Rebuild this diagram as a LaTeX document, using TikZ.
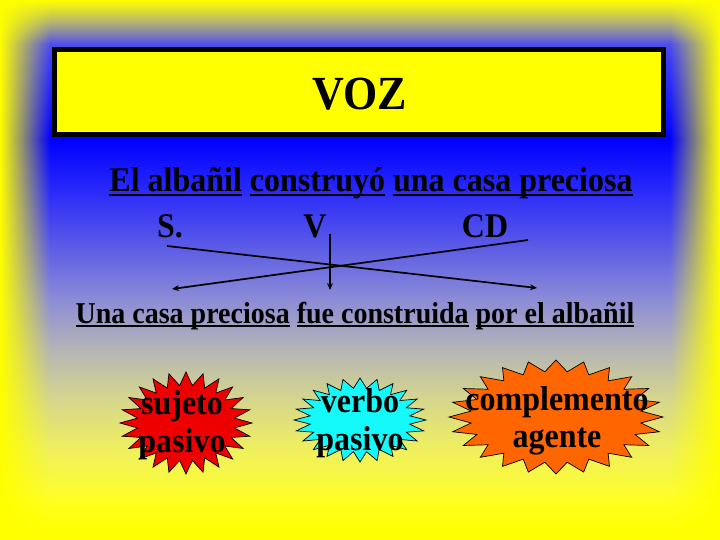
\documentclass[tikz,border=0pt]{standalone}
\usepackage{fontspec}
\setmainfont{Liberation Serif}
\usetikzlibrary{arrows.meta,fadings}
\newsavebox\ulbox
\newcommand\ulw[1]{\sbox\ulbox{#1}\rlap{\rule[-0.13em]{\wd\ulbox}{0.07em}}\usebox\ulbox}
\newcommand\tall[1]{\scalebox{1}[1.08]{#1}}
\newcommand\mystar[6]{%
  \filldraw[fill=#6, draw=black, line width=0.7pt, line join=miter]
    plot[domain=0:47, samples=48, variable=\k]
    ({#1+(1-(1-#5)*mod(round(\k),2))*#3*cos(\k*7.5)},
     {#2+(1-(1-#5)*mod(round(\k),2))*#4*sin(\k*7.5)}) -- cycle;}
\pgfdeclareverticalshading{bgshade}{100bp}{%
  rgb(0bp)=(1,1,0.08);
  rgb(25bp)=(1,1,0.08);
  rgb(28.7bp)=(1,1,0.16);
  rgb(33.33bp)=(0.94,0.94,0.37);
  rgb(37.96bp)=(0.84,0.84,0.55);
  rgb(42.59bp)=(0.71,0.71,0.71);
  rgb(47.22bp)=(0.55,0.55,0.84);
  rgb(51.85bp)=(0.37,0.37,0.9);
  rgb(57.41bp)=(0.16,0.16,0.98);
  rgb(62.04bp)=(0,0,1);
  rgb(69.44bp)=(0.24,0.24,0.96);
  rgb(75bp)=(0.5,0.5,0.85);
  rgb(100bp)=(0.5,0.5,0.85)}
\tikzfading[name=fadeE, left color=transparent!0, right color=transparent!100]
\tikzfading[name=fadeW, left color=transparent!100, right color=transparent!0]
\tikzfading[name=fadeN, top color=transparent!0, bottom color=transparent!100]
\tikzfading[name=fadeS, top color=transparent!100, bottom color=transparent!0]
\definecolor{burstred}{RGB}{238,0,0}
\definecolor{burstcyan}{RGB}{20,250,250}
\definecolor{burstorange}{RGB}{255,102,0}
\definecolor{bgyellow}{RGB}{255,255,0}
\begin{document}
\begin{tikzpicture}[x=1pt,y=-1pt,
  big/.style={font=\fontsize{32}{38}\selectfont\bfseries, inner sep=0pt, anchor=base},
  mid/.style={font=\fontsize{28}{34}\selectfont\bfseries, inner sep=0pt, anchor=base},
  arr/.style={line width=1.7pt, -{Stealth[length=7pt,width=6pt]}}]
\useasboundingbox (0,0) rectangle (720,540);
% background
\fill[bgyellow] (0,0) rectangle (720,540);
\shade[shading=bgshade] (0,0) rectangle (720,540);
\fill[bgyellow, path fading=fadeE] (0,0) rectangle (50,540);
\fill[bgyellow, path fading=fadeW] (670,0) rectangle (720,540);
\fill[bgyellow, path fading=fadeN] (0,0) rectangle (720,44);
\fill[bgyellow, path fading=fadeS] (0,492) rectangle (720,540);
% title
\node[draw=black, line width=5pt, fill=bgyellow, minimum width=609pt, minimum height=85pt, inner sep=0pt] (title) at (359,92) {};
\node[font=\fontsize{44}{50}\selectfont\bfseries, inner sep=0pt, anchor=base] (voz) at (360,110) {\tall{VOZ}};
% active sentence
\node[big] (act) at (371,192) {\tall{\ulw{El albañil} \ulw{construyó} \ulw{una casa preciosa}}};
\node[big] (S) at (170,237) {\tall{S.}};
\node[big] (V) at (315,237) {\tall{V}};
\node[big] (CD) at (485,237) {\tall{CD}};
% connectors
\coordinate (sA) at (167,246);
\coordinate (sB) at (537,288);
\coordinate (cA) at (528,240);
\coordinate (cB) at (172,289);
\coordinate (vA) at (330,234);
\coordinate (vB) at (330,290);
\draw[arr] (sA) -- (sB);
\draw[arr] (cA) -- (cB);
\draw[arr] (vA) -- (vB);
% passive sentence
\node[mid] (pas) at (355,323) {\tall{\ulw{Una casa preciosa} \ulw{fue construida} \ulw{por el albañil}}};
% bursts
\mystar{186}{423}{66}{51}{0.74}{burstred}
\mystar{360}{420}{66}{42}{0.76}{burstcyan}
\mystar{556}{417}{107}{57}{0.8}{burstorange}
\node[big] (suj1) at (182,414) {\tall{sujeto}};
\node[big] (suj2) at (182,452) {\tall{pasivo}};
\node[big] (ver1) at (360,412) {\tall{verbo}};
\node[big] (ver2) at (360,450) {\tall{pasivo}};
\node[big] (com1) at (557,410) {\tall{complemento}};
\node[big] (com2) at (557,447) {\tall{agente}};
\end{tikzpicture}
\end{document}
